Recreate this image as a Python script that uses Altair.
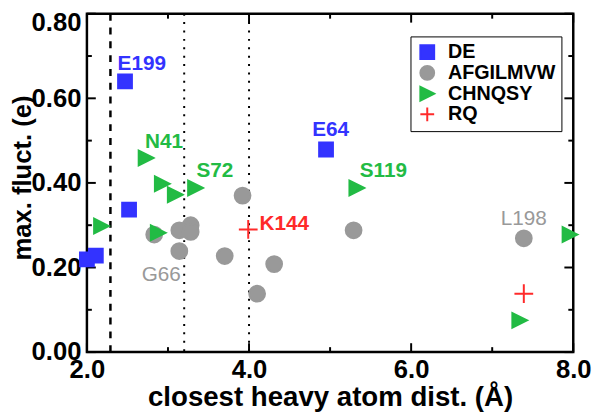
import altair as alt
import pandas as pd

# ---- data ----
groups = ["DE", "AFGILMVW", "CHNQSY", "RQ"]
colors = ["#3333ff", "#999999", "#22bb44", "#ff2a2a"]

gray_x = [3.92, 3.28, 3.14, 3.28, 2.83, 3.14, 3.70, 4.31, 4.10, 5.29, 7.39]
gray_y = [0.370, 0.300, 0.288, 0.284, 0.278, 0.239, 0.227, 0.208, 0.138, 0.288, 0.269]
gray_lab = ["", "", "", "", "", "G66", "", "", "", "", "L198"]

green_x = [2.73, 2.93, 3.09, 3.34, 2.18, 2.88, 5.33, 7.96, 7.34]
green_y = [0.459, 0.398, 0.372, 0.388, 0.298, 0.282, 0.388, 0.278, 0.075]
green_lab = ["N41", "", "", "S72", "", "", "S119", "", ""]

blue_x = [2.47, 4.95, 2.52, 2.00, 2.11]
blue_y = [0.640, 0.479, 0.337, 0.219, 0.228]
blue_lab = ["E199", "E64", "", "", ""]

red_x = [3.99, 7.39]
red_y = [0.290, 0.138]
red_lab = ["K144", ""]

vlines_dashed = [2.29]
vlines_dotted = [3.20, 4.00]

x_major = [2.0, 4.0, 6.0, 8.0]
x_minor = [3.0, 5.0, 7.0]
y_major = [0.0, 0.2, 0.4, 0.6, 0.8]
y_minor = [0.1, 0.3, 0.5, 0.7]

rows = []
for g, xs, ys, ls in [("AFGILMVW", gray_x, gray_y, gray_lab),
                      ("CHNQSY", green_x, green_y, green_lab),
                      ("DE", blue_x, blue_y, blue_lab),
                      ("RQ", red_x, red_y, red_lab)]:
    for a, b, l in zip(xs, ys, ls):
        rows.append({"x": a, "y": b, "group": g, "label": l})
pts = pd.DataFrame(rows)

# ---- styling ----
W, H = 493, 343
FONT = "Liberation Sans"
XT = "closest heavy atom dist. (Å)"
YT = "max. fluct. (e)"
xs_ = alt.Scale(domain=[2, 8], nice=False, zero=False)
ys_ = alt.Scale(domain=[0, 0.8], nice=False, zero=False)
xa = alt.Axis(values=x_major, format=".1f", ticks=False, domain=False, grid=False,
              labelFlush=False, labelOverlap=False, labelFontSize=26, labelFontWeight="bold",
              labelColor="black", labelPadding=5, titleFontSize=28, titleFontWeight="bold",
              titleColor="black", titleY=54, titleBaseline="alphabetic")
ya = alt.Axis(values=y_major, format=".2f", ticks=False, domain=False, grid=False,
              labelFlush=False, labelOverlap=False, labelFontSize=26, labelFontWeight="bold",
              labelColor="black", labelPadding=6,
              labelOffset=alt.condition("datum.value > 0.75", alt.value(9), alt.value(0)),
              titleFontSize=26, titleFontWeight="bold", titleColor="black",
              titleX=-57, titleY=166, titleAngle=270, titleBaseline="alphabetic")


def X(f):
    return alt.X(f, type="quantitative", scale=xs_, axis=xa, title=XT)


def Y(f):
    return alt.Y(f, type="quantitative", scale=ys_, axis=ya, title=YT)


tri = "M1,0L-1,-1L-1,1Z"
crs = "M-1,0L1,0M0,-1L0,1"
shapes = ["square", "circle", tri, crs]
sizes = dict(zip(groups, [196, 256, 225, 361]))

layers = []

# reference lines
layers.append(alt.Chart(pd.DataFrame({"v": vlines_dashed})).mark_rule(
    color="black", strokeWidth=2.5, strokeDash=[7, 7]).encode(x=X("v")))
layers.append(alt.Chart(pd.DataFrame({"v": vlines_dotted})).mark_rule(
    color="black", strokeWidth=2, strokeDash=[2, 6.5]).encode(x=X("v")))

# inward ticks
for vals, ln in [(x_major, 9), (x_minor, 5)]:
    d = pd.DataFrame({"v": vals})
    layers.append(alt.Chart(d).mark_rule(color="black", strokeWidth=2).encode(
        x=X("v"), y=alt.value(H), y2=alt.value(H - ln)))
    layers.append(alt.Chart(d).mark_rule(color="black", strokeWidth=2).encode(
        x=X("v"), y=alt.value(0), y2=alt.value(ln)))
for vals, ln in [(y_major, 9), (y_minor, 5)]:
    d = pd.DataFrame({"v": vals})
    layers.append(alt.Chart(d).mark_rule(color="black", strokeWidth=2).encode(
        y=Y("v"), x=alt.value(0), x2=alt.value(ln)))
    layers.append(alt.Chart(d).mark_rule(color="black", strokeWidth=2).encode(
        y=Y("v"), x=alt.value(W), x2=alt.value(W - ln)))

# points, one layer per group (drawing order gray, green, blue, red)
leg = alt.Legend(title=None, orient="none", legendX=328, legendY=23, symbolSize=196,
                 rowPadding=-1, labelOffset=11, symbolOffset=1)
for g in ["AFGILMVW", "CHNQSY", "DE", "RQ"]:
    layers.append(alt.Chart(pts).transform_filter(alt.datum.group == g).mark_point(
        filled=True, opacity=1, strokeWidth=2, strokeOpacity=1, size=sizes[g]).encode(
        x=X("x"), y=Y("y"),
        fill=alt.Fill("group:N", scale=alt.Scale(domain=groups, range=colors), legend=leg),
        stroke=alt.Stroke("group:N", scale=alt.Scale(domain=groups, range=colors), legend=leg),
        shape=alt.Shape("group:N", scale=alt.Scale(domain=groups, range=shapes), legend=leg),
    ))

# labels
cmap = dict(zip(groups, colors))
lab_style = {
    "E199": ("left", -7.5, -18, "bold"),
    "N41": ("left", -1, -16, "bold"),
    "S72": ("left", 1, -17, "bold"),
    "E64": ("left", -14, -19.5, "bold"),
    "S119": ("left", 3, -17, "bold"),
    "K144": ("left", 11.5, -5, "bold"),
    "G66": ("right", 1.5, 24, "normal"),
    "L198": ("center", 0, -20, "normal"),
}
for _, r in pts[pts["label"] != ""].iterrows():
    al, dx, dy, fw = lab_style[r["label"]]
    layers.append(alt.Chart(pts).transform_filter(alt.datum.label == r["label"]).mark_text(
        align=al, baseline="middle", dx=dx, dy=dy, fontSize=21, fontWeight=fw,
        color=cmap[r["group"]], font=FONT).encode(x=X("x"), y=Y("y"), text="label:N"))

chart = alt.layer(*layers).properties(
    width=W, height=H,
    autosize=alt.AutoSizeParams(type="none"),
    padding={"left": 80, "top": 3, "right": 19, "bottom": 64},
    background="white",
).configure(font=FONT).configure_view(
    stroke="black", strokeWidth=2.5
).configure_legend(
    strokeColor="black", fillColor="white", padding=6, cornerRadius=0,
    symbolStrokeWidth=2,
    labelFontSize=20, labelFontWeight="bold", labelColor="black", labelFont=FONT,
)

chart.save("out.html", embed_options={"renderer": "svg", "actions": False})
